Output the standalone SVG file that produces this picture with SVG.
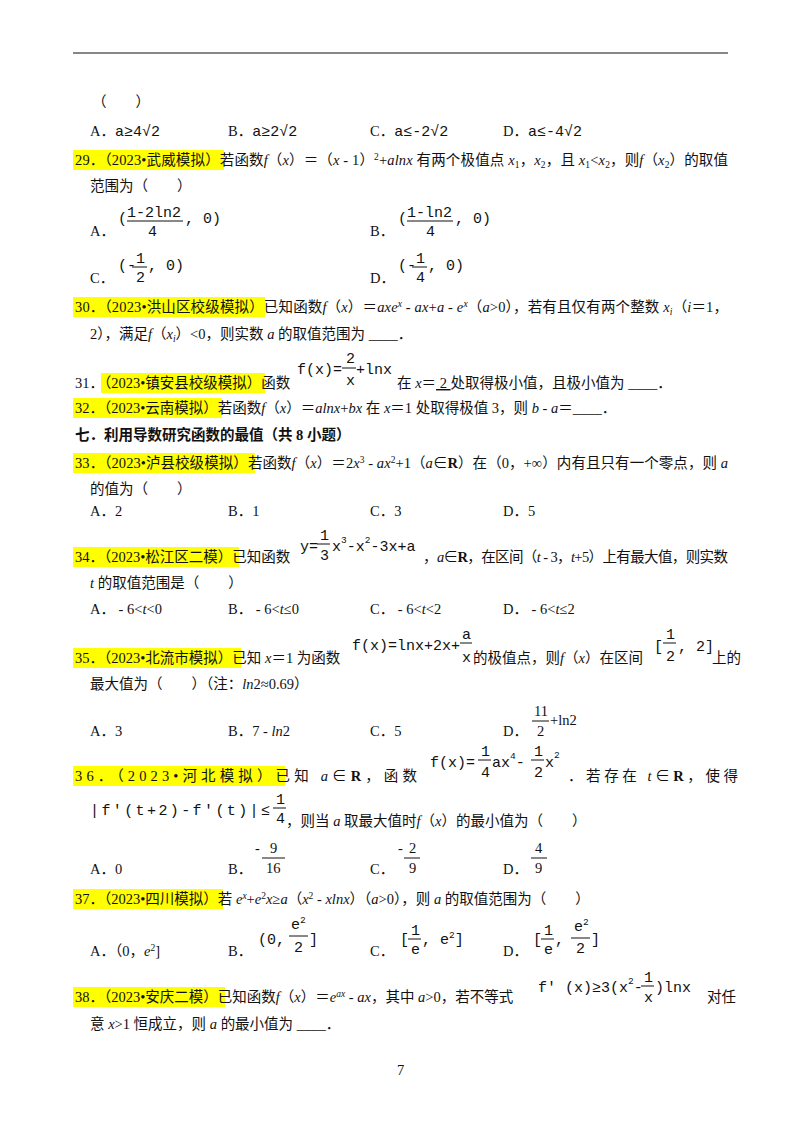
<svg xmlns="http://www.w3.org/2000/svg" width="800" height="1132" viewBox="0 0 800 1132">
<style>
text{font-family:"Liberation Serif","Noto Sans CJK SC",serif;font-size:14.5px;fill:#111}
.m{font-family:"Liberation Mono","DejaVu Sans Mono",monospace;font-size:15px}
.i{font-style:italic}
.b{font-weight:bold}
.hl{fill:#ffff00}
.fl{stroke:#111;stroke-width:1}
.s{font-size:9.5px}
</style>
<rect width="800" height="1132" fill="#fff"/>
<line x1="73" y1="53" x2="728" y2="53" stroke="#111" stroke-width="1.2"/>
<g id="highlights">
<rect class="hl" x="73" y="150" width="151" height="20"/>
<rect class="hl" x="73" y="297" width="192" height="20"/>
<rect class="hl" x="101" y="373" width="164" height="20"/>
<rect class="hl" x="73" y="398" width="149" height="20"/>
<rect class="hl" x="73" y="453" width="182" height="20"/>
<rect class="hl" x="73" y="547" width="166" height="20"/>
<rect class="hl" x="73" y="648" width="168" height="20"/>
<rect class="hl" x="73" y="766" width="212" height="20"/>
<rect class="hl" x="73" y="889" width="150" height="20"/>
<rect class="hl" x="73" y="987" width="152" height="20"/>
</g>
<text x="92" y="107">（　　）</text>
<text x="90" y="136">A．<tspan class="m">a≥4√2</tspan></text>
<text x="228" y="136">B．<tspan class="m">a≥2√2</tspan></text>
<text x="370" y="136">C．<tspan class="m">a≤-2√2</tspan></text>
<text x="503" y="136">D．<tspan class="m">a≤-4√2</tspan></text>

<text x="75" y="165" textLength="653" lengthAdjust="spacing">29．（2023•武威模拟）若函数<tspan class="i">f</tspan>（<tspan class="i">x</tspan>）＝（<tspan class="i">x</tspan> - 1）<tspan class="s" dy="-5">2</tspan><tspan dy="5">+</tspan><tspan class="i">alnx</tspan> 有两个极值点 <tspan class="i">x</tspan><tspan class="s" dy="3">1</tspan><tspan dy="-3">，</tspan><tspan class="i">x</tspan><tspan class="s" dy="3">2</tspan><tspan dy="-3">，且 </tspan><tspan class="i">x</tspan><tspan class="s" dy="3">1</tspan><tspan dy="-3">&lt;</tspan><tspan class="i">x</tspan><tspan class="s" dy="3">2</tspan><tspan dy="-3">，则</tspan><tspan class="i">f</tspan>（<tspan class="i">x</tspan><tspan class="s" dy="3">2</tspan><tspan dy="-3">）的取值</tspan></text>
<text x="90" y="191">范围为（　　）</text>

<text x="90" y="236">A．</text>
<text class="m" x="118" y="223">(</text><text class="m" x="127" y="217">1-2ln2</text><line class="fl" x1="127" y1="221" x2="183" y2="221"/><text class="m" x="148" y="236">4</text><text class="m" x="185" y="223">, 0)</text>
<text x="370" y="236">B．</text>
<text class="m" x="398" y="223">(</text><text class="m" x="407" y="217">1-ln2</text><line class="fl" x1="407" y1="221" x2="453" y2="221"/><text class="m" x="426" y="236">4</text><text class="m" x="455" y="223">, 0)</text>
<text x="90" y="283">C．</text>
<text class="m" x="118" y="270">(-</text><text class="m" x="136" y="263">1</text><line class="fl" x1="132" y1="267" x2="147" y2="267"/><text class="m" x="136" y="282">2</text><text class="m" x="148" y="270">, 0)</text>
<text x="370" y="283">D．</text>
<text class="m" x="398" y="270">(-</text><text class="m" x="416" y="263">1</text><line class="fl" x1="412" y1="267" x2="427" y2="267"/><text class="m" x="416" y="282">4</text><text class="m" x="428" y="270">, 0)</text>

<text x="75" y="312" textLength="653" lengthAdjust="spacing">30．（2023•洪山区校级模拟）已知函数<tspan class="i">f</tspan>（<tspan class="i">x</tspan>）＝<tspan class="i">axe</tspan><tspan class="s i" dy="-5">x</tspan><tspan dy="5"> - </tspan><tspan class="i">ax</tspan>+<tspan class="i">a</tspan> - <tspan class="i">e</tspan><tspan class="s i" dy="-5">x</tspan><tspan dy="5">（</tspan><tspan class="i">a</tspan>&gt;0），若有且仅有两个整数 <tspan class="i">x</tspan><tspan class="s i" dy="3">i</tspan><tspan dy="-3">（</tspan><tspan class="i">i</tspan>＝1，</text>
<text x="90" y="339">2），满足<tspan class="i">f</tspan>（<tspan class="i">x</tspan><tspan class="s i" dy="3">i</tspan><tspan dy="-3">）&lt;0，则实数 </tspan><tspan class="i">a</tspan> 的取值范围为 ____．</text>

<text x="75" y="388">31．（2023•镇安县校级模拟）函数</text>
<text class="m" x="297" y="374">f(x)=</text><text class="m" x="346" y="363">2</text><line class="fl" x1="342" y1="368" x2="356" y2="368"/><text class="m" x="346" y="385">x</text><text class="m" x="356" y="374">+lnx</text>
<text x="397" y="388">在 <tspan class="i">x</tspan>＝<tspan text-decoration="underline">   2   </tspan>处取得极小值，且极小值为 ____．</text>
<text x="75" y="413">32．（2023•云南模拟）若函数<tspan class="i">f</tspan>（<tspan class="i">x</tspan>）＝<tspan class="i">alnx</tspan>+<tspan class="i">bx</tspan> 在 <tspan class="i">x</tspan>＝1 处取得极值 3，则 <tspan class="i">b</tspan> - <tspan class="i">a</tspan>＝____．</text>

<text class="b" x="75" y="440" font-family="Noto Sans CJK SC">七．利用导数研究函数的最值（共 8 小题）</text>

<text x="75" y="468" textLength="653" lengthAdjust="spacing">33．（2023•泸县校级模拟）若函数<tspan class="i">f</tspan>（<tspan class="i">x</tspan>）＝2<tspan class="i">x</tspan><tspan class="s" dy="-5">3</tspan><tspan dy="5"> - </tspan><tspan class="i">ax</tspan><tspan class="s" dy="-5">2</tspan><tspan dy="5">+1（</tspan><tspan class="i">a</tspan>∈<tspan class="b">R</tspan>）在（0，+∞）内有且只有一个零点，则 <tspan class="i">a</tspan></text>
<text x="90" y="494">的值为（　　）</text>
<text x="90" y="516">A．2</text><text x="228" y="516">B．1</text><text x="370" y="516">C．3</text><text x="503" y="516">D．5</text>

<text x="75" y="562">34．（2023•松江区二模）已知函数</text>
<text class="m" x="300" y="551">y=</text><text class="m" x="320" y="540">1</text><line class="fl" x1="317" y1="544" x2="330" y2="544"/><text class="m" x="320" y="560">3</text><text class="m" x="332" y="551">x<tspan class="s" dy="-8">3</tspan><tspan dy="8">-x</tspan><tspan class="s" dy="-8">2</tspan><tspan dy="8">-3x+a</tspan></text>
<text x="423" y="562" textLength="305" lengthAdjust="spacing">，<tspan class="i">a</tspan>∈<tspan class="b">R</tspan>，在区间（<tspan class="i">t</tspan> - 3，<tspan class="i">t</tspan>+5）上有最大值，则实数</text>
<text x="90" y="588"><tspan class="i">t</tspan> 的取值范围是（　　）</text>
<text x="90" y="614">A．  - 6&lt;<tspan class="i">t</tspan>&lt;0</text><text x="228" y="614">B．  - 6&lt;<tspan class="i">t</tspan>≤0</text><text x="370" y="614">C．  - 6&lt;<tspan class="i">t</tspan>&lt;2</text><text x="503" y="614">D．  - 6&lt;<tspan class="i">t</tspan>≤2</text>

<text x="75" y="663">35．（2023•北流市模拟）已知 <tspan class="i">x</tspan>＝1 为函数</text>
<text class="m" x="352" y="650">f(x)=lnx+2x+</text><text class="m" x="462" y="639">a</text><line class="fl" x1="460" y1="643" x2="472" y2="643"/><text class="m" x="462" y="662">x</text>
<text x="473" y="663">的极值点，则<tspan class="i">f</tspan>（<tspan class="i">x</tspan>）在区间</text>
<text class="m" x="654" y="651">[</text><text class="m" x="666" y="639">1</text><line class="fl" x1="663" y1="643" x2="676" y2="643"/><text class="m" x="666" y="661">2</text><text class="m" x="678" y="651">, 2]</text>
<text x="712" y="663">上的</text>
<text x="90" y="689">最大值为（　　）（注：<tspan class="i">ln</tspan>2≈0.69）</text>
<text x="90" y="736">A．3</text><text x="228" y="736">B．7 - <tspan class="i">ln</tspan>2</text><text x="370" y="736">C．5</text><text x="503" y="736">D．</text>
<text x="534" y="716">11</text><line class="fl" x1="532" y1="721" x2="549" y2="721"/><text x="537" y="736">2</text><text x="550" y="725">+ln2</text>

<text x="75" y="781" textLength="342" lengthAdjust="spacing">36．（2023•河北模拟）已知 <tspan class="i">a</tspan>∈<tspan class="b">R</tspan>，函数</text>
<text class="m" x="430" y="767">f(x)=</text><text class="m" x="481" y="756">1</text><line class="fl" x1="478" y1="760" x2="491" y2="760"/><text class="m" x="481" y="777">4</text><text class="m" x="492" y="767">ax<tspan class="s" dy="-8">4</tspan><tspan dy="8">-</tspan></text><text class="m" x="534" y="756">1</text><line class="fl" x1="531" y1="760" x2="544" y2="760"/><text class="m" x="534" y="777">2</text><text class="m" x="545" y="767">x<tspan class="s" dy="-9">2</tspan></text>
<text x="568" y="781" textLength="170" lengthAdjust="spacing">．若存在 <tspan class="i">t</tspan>∈<tspan class="b">R</tspan>，使得</text>
<text class="m" x="90" y="815" textLength="180" lengthAdjust="spacing">|f′(t+2)-f′(t)|≤</text><text class="m" x="276" y="804">1</text><line class="fl" x1="273" y1="808" x2="286" y2="808"/><text class="m" x="276" y="823">4</text>
<text x="286" y="826">，则当 <tspan class="i">a</tspan> 取最大值时<tspan class="i">f</tspan>（<tspan class="i">x</tspan>）的最小值为（　　）</text>
<text x="90" y="874">A．0</text>
<text x="228" y="874">B．</text><text x="255" y="853">-</text><text x="270" y="853">9</text><line class="fl" x1="262" y1="858" x2="285" y2="858"/><text x="266" y="873">16</text>
<text x="370" y="874">C．</text><text x="398" y="853">-</text><text x="409" y="853">2</text><line class="fl" x1="404" y1="858" x2="420" y2="858"/><text x="409" y="873">9</text>
<text x="503" y="874">D．</text><text x="535" y="853">4</text><line class="fl" x1="531" y1="858" x2="547" y2="858"/><text x="535" y="873">9</text>

<text x="75" y="904">37．（2023•四川模拟）若 <tspan class="i">e</tspan><tspan class="s i" dy="-5">x</tspan><tspan dy="5">+</tspan><tspan class="i">e</tspan><tspan class="s" dy="-5">2</tspan><tspan class="i" dy="5">x</tspan>≥<tspan class="i">a</tspan>（<tspan class="i">x</tspan><tspan class="s" dy="-5">2</tspan><tspan dy="5"> - </tspan><tspan class="i">xlnx</tspan>）（<tspan class="i">a</tspan>&gt;0），则 <tspan class="i">a</tspan> 的取值范围为（　　）</text>
<text x="90" y="956">A．（0，<tspan class="i">e</tspan><tspan class="s" dy="-5">2</tspan><tspan dy="5">]</tspan></text>
<text x="228" y="956">B．</text><text class="m" x="258" y="944">(0,</text><text class="m" x="291" y="929">e<tspan class="s" dy="-6">2</tspan></text><line class="fl" x1="289" y1="936" x2="308" y2="936"/><text class="m" x="294" y="952">2</text><text class="m" x="309" y="944">]</text>
<text x="370" y="956">C．</text><text class="m" x="400" y="944">[</text><text class="m" x="411" y="935">1</text><line class="fl" x1="408" y1="939" x2="421" y2="939"/><text class="m" x="411" y="954">e</text><text class="m" x="422" y="944">, e<tspan class="s" dy="-6">2</tspan><tspan dy="6">]</tspan></text>
<text x="503" y="956">D．</text><text class="m" x="533" y="944">[</text><text class="m" x="544" y="935">1</text><line class="fl" x1="541" y1="939" x2="554" y2="939"/><text class="m" x="544" y="954">e</text><text class="m" x="555" y="944">,</text><text class="m" x="574" y="931">e<tspan class="s" dy="-6">2</tspan></text><line class="fl" x1="571" y1="938" x2="590" y2="938"/><text class="m" x="576" y="953">2</text><text class="m" x="591" y="944">]</text>

<text x="75" y="1002">38．（2023•安庆二模）已知函数<tspan class="i">f</tspan>（<tspan class="i">x</tspan>）＝<tspan class="i">e</tspan><tspan class="s i" dy="-5">ax</tspan><tspan dy="5"> - </tspan><tspan class="i">ax</tspan>，其中 <tspan class="i">a</tspan>&gt;0，若不等式</text>
<text class="m" x="538" y="992">f′ (x)≥3(x<tspan class="s" dy="-8">2</tspan><tspan dy="8">-</tspan></text><text class="m" x="644" y="982">1</text><line class="fl" x1="641" y1="986" x2="654" y2="986"/><text class="m" x="644" y="1002">x</text><text class="m" x="655" y="992">)lnx</text>
<text x="707" y="1002">对任</text>
<text x="90" y="1029">意 <tspan class="i">x</tspan>&gt;1 恒成立，则 <tspan class="i">a</tspan> 的最小值为 ____．</text>

<text x="397" y="1075" font-size="11">7</text>
</svg>
